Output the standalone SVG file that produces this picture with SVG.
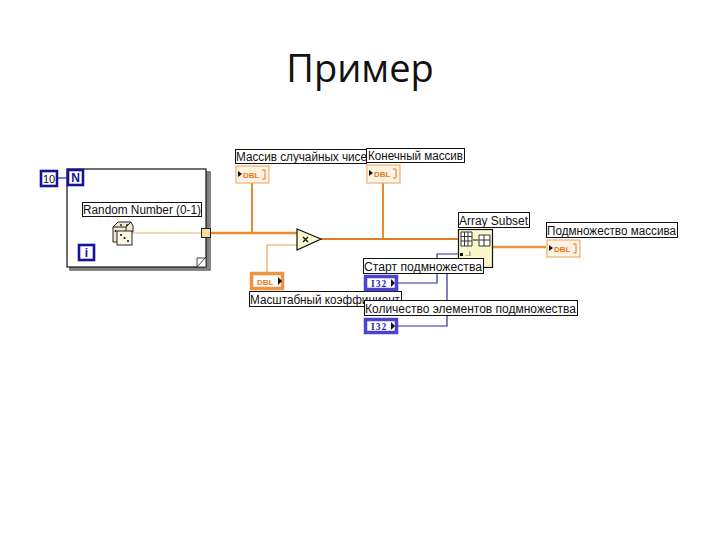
<svg xmlns="http://www.w3.org/2000/svg" width="720" height="540" viewBox="0 0 720 540">
<style>
text{font-family:"Liberation Sans",Arial,sans-serif;fill:#111}
.lb{fill:#fff;stroke:#111;stroke-width:1}
.t{font-size:12.5px}
.dbl{fill:#fdf3e2;stroke:#f0b070;stroke-width:1.2}
.dt{font-size:8px;font-weight:bold;fill:#e8791f;font-family:"Liberation Sans",sans-serif}
.ctl{fill:#fff;stroke:#ec9440;stroke-width:3.5}
.i32{fill:#fff;stroke:#4a44cc;stroke-width:3.5}
.it{font-size:9.5px;font-weight:bold;fill:#2a2ab0;font-family:"Liberation Serif",serif}
.bb{fill:#fff;stroke:#14149a;stroke-width:2.6}
.w{fill:none;stroke:#e88a2e}
.bw{fill:none;stroke:#2c2c9c;stroke-width:1.2}
</style>
<rect width="720" height="540" fill="#fff"/>
<text id="title" x="360" y="82" text-anchor="middle" style="font-family:'Open Sans','Liberation Sans',sans-serif;font-size:38px;fill:#111">Пример</text>
<g id="loop">
<rect x="70" y="172" width="140" height="98" fill="#fff" stroke="#111" stroke-width="1"/>
<path d="M207.500 171V268H69" fill="none" stroke="#808080" stroke-width="3.500"/>
<rect x="67" y="169" width="139" height="98" fill="#fff" stroke="#111" stroke-width="1.2"/>
<path d="M197 267L206 257V267ZM197 267V258H206" fill="#fff" stroke="#444" stroke-width="1"/>
</g>
<g id="connectors">
<path class="w" d="M133 233H201" stroke-width="1.2" style="stroke:#f0b06c"/>
<path class="w" d="M211 233H297" stroke-width="2.6"/>
<path class="w" d="M252 183V233M383 183V239" stroke-width="2"/>
<path class="w" d="M321 239H458" stroke-width="2.2" style="stroke:#e07c28"/>
<path class="w" d="M297 245H267V272" stroke-width="1.2" style="stroke:#eaa050"/>
<path class="w" d="M493 247H546" stroke-width="2.4" style="stroke:#e09a44"/>
<path class="bw" d="M57 178H68"/>
<path class="bw" d="M398 283H437V254H458"/>
<path class="bw" d="M398 326H447V259H458"/>
</g>
<g id="n-const"><rect class="bb" x="41" y="171" width="16" height="15"/><text x="49" y="183" text-anchor="middle" style="font-size:11px">10</text></g>
<g id="n-terminal"><rect class="bb" x="68" y="170" width="15" height="15"/><text x="75.500" y="182" text-anchor="middle" style="font-size:12px;font-weight:bold;fill:#14149a">N</text></g>
<g id="i-terminal"><rect class="bb" x="79" y="245" width="15" height="15"/><text x="86.500" y="257" text-anchor="middle" style="font-size:12px;font-weight:bold;fill:#14149a">i</text></g>
<g id="random">
<rect class="lb" x="82.500" y="202.500" width="119" height="14"/>
<text class="t" x="83" y="214" textLength="118" lengthAdjust="spacingAndGlyphs">Random Number (0-1)</text>
<path d="M113 227L118 222H131L133 226V232H122V242H113Z" fill="#efe8d0" stroke="#222"/>
<path d="M113 227H126L131 222M126 227V232" fill="none" stroke="#222"/>
<rect x="117" y="231" width="15" height="14" fill="#fdf8e4" stroke="#222"/>
<circle cx="121" cy="235" r="1.100" fill="#111"/><circle cx="124.500" cy="238" r="1.100" fill="#111"/><circle cx="128" cy="241" r="1.100" fill="#111"/>
<circle cx="115.500" cy="231" r="0.900" fill="#111"/><circle cx="121" cy="225" r="0.900" fill="#111"/><circle cx="127" cy="225" r="0.900" fill="#111"/>
</g>
<g id="tunnel"><rect x="201.500" y="228.500" width="9" height="9" fill="#f3dc9c" stroke="#222" stroke-width="1"/></g>
<g id="indicator1">
<rect class="lb" x="235.500" y="149.500" width="131" height="14"/>
<text class="t" x="236" y="161" textLength="131" lengthAdjust="spacingAndGlyphs">Массив случайных чисе</text>
<rect class="dbl" x="236" y="166" width="33" height="17"/>
<path d="M238 171l4 3-4 3z" fill="#111"/><text class="dt" x="243" y="177.500">DBL</text>
<path d="M262 170h3v9h-3" fill="none" stroke="#e8791f"/>
</g>
<g id="indicator2">
<rect class="lb" x="366.500" y="148.500" width="98" height="14"/>
<text class="t" x="368" y="160" textLength="95" lengthAdjust="spacingAndGlyphs">Конечный массив</text>
<rect class="dbl" x="367" y="165" width="33" height="18"/>
<path d="M369 170l4 3-4 3z" fill="#111"/><text class="dt" x="374" y="177">DBL</text>
<path d="M393 169h3v9h-3" fill="none" stroke="#e8791f"/>
</g>
<g id="multiply">
<path d="M297 229L321 239L297 250Z" fill="#fbf8cc" stroke="#111" stroke-width="1.2"/>
<path d="M303 237l5 5M308 237l-5 5" stroke="#111" stroke-width="1.300"/>
</g>
<g id="scale">
<rect class="ctl" x="251.500" y="273.500" width="31" height="15"/>
<text class="dt" x="257" y="284.500">DBL</text><path d="M278 277l4 4-4 4z" fill="#111"/>
<rect class="lb" x="249.500" y="291.500" width="152" height="15"/>
<text class="t" x="250" y="304" textLength="150" lengthAdjust="spacingAndGlyphs">Масштабный коэффициент</text>
</g>
<g id="subset">
<rect class="lb" x="458.500" y="212.500" width="71" height="15"/>
<text class="t" x="459" y="225" textLength="69" lengthAdjust="spacingAndGlyphs">Array Subset</text>
<rect x="458.500" y="229.500" width="34" height="38" fill="#fbf8cc" stroke="#111" stroke-width="1.200"/>
<path d="M461 232h11v14h-11zM461 236.500h11M461 241h11M464.500 232v14M468 232v14" fill="#fff" stroke="#222" stroke-width="0.900"/>
<path d="M479 235h11v11h-11zM479 240h11M484 235v11" fill="#fff" stroke="#222" stroke-width="0.900"/>
<path d="M473 240h5" stroke="#111" stroke-width="1"/>
<rect x="460" y="253" width="3" height="3" fill="#111"/>
<text x="465" y="256" style="font-size:7px">..i</text>
</g>
<g id="output">
<rect class="lb" x="546.500" y="222.500" width="131" height="15"/>
<text class="t" x="547" y="235" textLength="129" lengthAdjust="spacingAndGlyphs">Подмножество массива</text>
<rect class="dbl" x="547" y="240" width="33" height="17"/>
<path d="M549 245l4 3-4 3z" fill="#111"/><text class="dt" x="554" y="251.500">DBL</text>
<path d="M573 244h3v9h-3" fill="none" stroke="#e8791f"/>
</g>
<g id="start">
<rect class="i32" x="365.500" y="276.500" width="31" height="13"/>
<text class="it" x="371" y="286.500" style="letter-spacing:1px">I32</text><path d="M391 279l4 4-4 4z" fill="#111"/>
<rect class="lb" x="363.500" y="258.500" width="120" height="15"/>
<text class="t" x="364" y="271" textLength="118" lengthAdjust="spacingAndGlyphs">Старт подмножества</text>
</g>
<g id="count">
<rect class="lb" x="364.500" y="300.500" width="213" height="15"/>
<text class="t" x="365" y="313" textLength="211" lengthAdjust="spacingAndGlyphs">Количество элементов подмножества</text>
<rect class="i32" x="365.500" y="319.500" width="31" height="13"/>
<text class="it" x="371" y="329.500" style="letter-spacing:1px">I32</text><path d="M391 322l4 4-4 4z" fill="#111"/>
</g>
</svg>
